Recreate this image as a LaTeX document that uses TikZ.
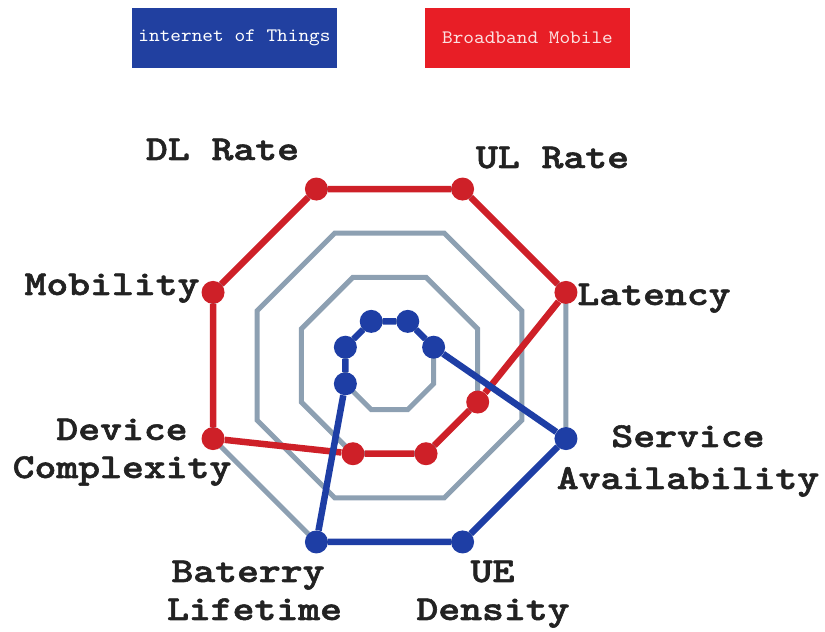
\documentclass[tikz,border=0pt]{standalone}
\usepackage{graphicx}
\usepackage{fontspec}
\newfontfamily\labfont{lmmonolt10-bold.otf}[FakeBold=1.5]
\newfontfamily\legfont{lmmono10-regular.otf}
\usetikzlibrary{calc,backgrounds}
\definecolor{ringgray}{RGB}{141,160,178}
\definecolor{redln}{RGB}{206,32,40}
\definecolor{blueln}{RGB}{30,62,165}
\definecolor{legblue}{RGB}{33,64,160}
\definecolor{legred}{RGB}{232,30,38}
\definecolor{labgray}{RGB}{34,34,34}
\newcommand\wideTxt[1]{\scalebox{1.19}[1]{#1}}
\newcommand\wideLeg[1]{\scalebox{1.07}[1]{#1}}
\begin{document}
\begin{tikzpicture}[x=1pt,y=1pt,
  ring/.style={draw=ringgray,line width=5pt,line join=miter},
  rline/.style={draw=redln,line width=6.5pt,line join=round},
  bline/.style={draw=blueln,line width=6.5pt,line join=round},
  rdot/.style={circle,fill=redln,minimum size=23pt,inner sep=0pt},
  bdot/.style={circle,fill=blueln,minimum size=23pt,inner sep=0pt},
  legend/.style={minimum width=205pt,minimum height=60pt,inner sep=0pt,font=\legfont\fontsize{19}{22}\selectfont},
  lab/.style={anchor=base,inner sep=0pt,text=labgray,font=\labfont\fontsize{35}{40}\selectfont}]
\useasboundingbox (0,0) rectangle (825,632);
\coordinate (C) at (389.5,266.5);

% legend
\node[legend,fill=legblue,text=white] (legIoT) at (234.5,594) {\wideLeg{internet of Things}};
\node[legend,fill=legred,text={rgb,255:red,252;green,225;blue,225}] (legBB) at (527.5,594) {\wideLeg{Broadband Mobile}};

% red dots (Broadband Mobile)
\node[rdot] (rDL)  at ($(C)+(112.5:191)$) {};
\node[rdot] (rUL)  at ($(C)+(67.5:191)$) {};
\node[rdot] (rLat) at ($(C)+(22.5:191)$) {};
\node[rdot] (rSer) at ($(C)+(-22.5:95.5)$) {};
\node[rdot] (rUE)  at ($(C)+(-67.5:95.5)$) {};
\node[rdot] (rBat) at ($(C)+(-112.5:95.5)$) {};
\node[rdot] (rDev) at ($(C)+(-157.5:191)$) {};
\node[rdot] (rMob) at ($(C)+(157.5:191)$) {};

% blue dots (Internet of Things)
\node[bdot] (bDL)  at ($(C)+(112.5:47.75)$) {};
\node[bdot] (bUL)  at ($(C)+(67.5:47.75)$) {};
\node[bdot] (bLat) at ($(C)+(22.5:47.75)$) {};
\node[bdot] (bSer) at ($(C)+(-22.5:191)$) {};
\node[bdot] (bUE)  at ($(C)+(-67.5:191)$) {};
\node[bdot] (bBat) at ($(C)+(-112.5:191)$) {};
\node[bdot] (bDev) at ($(C)+(-157.5:47.75)$) {};
\node[bdot] (bMob) at ($(C)+(157.5:47.75)$) {};

\begin{scope}[on background layer]
  \foreach \r in {47.75,95.5,143.25,191} {
    \draw[ring] ($(C)+(112.5:\r)$)
      \foreach \a in {67.5,22.5,-22.5,-67.5,-112.5,-157.5,157.5} { -- ($(C)+(\a:\r)$) } -- cycle;
  }
  \draw[rline] (rDL) -- (rUL) -- (rLat) -- (rSer) -- (rUE) -- (rBat) -- (rDev) -- (rMob) -- (rDL);
  \draw[bline] (bDL) -- (bUL) -- (bLat) -- (bSer) -- (bUE) -- (bBat) -- (bDev) -- (bMob) -- (bDL);
\end{scope}

% axis labels
\node[lab] (tDL)   at (222.5,472) {\wideTxt{DL Rate}};
\node[lab] (tUL)   at (552.5,464) {\wideTxt{UL Rate}};
\node[lab] (tMob)  at (112,337) {\wideTxt{Mobility}};
\node[lab] (tLat)  at (654,327) {\wideTxt{Latency}};
\node[lab] (tDev1) at (122,192) {\wideTxt{Device}};
\node[lab] (tDev2) at (122,154) {\wideTxt{Complexity}};
\node[lab] (tSer1) at (688,185) {\wideTxt{Service}};
\node[lab] (tSer2) at (688,143) {\wideTxt{Availability}};
\node[lab] (tBat1) at (248,50) {\wideTxt{Baterry}};
\node[lab] (tBat2) at (254.5,12) {\wideTxt{Lifetime}};
\node[lab] (tUE1)  at (492.5,50) {\wideTxt{UE}};
\node[lab] (tUE2)  at (493,12) {\wideTxt{Density}};
\end{tikzpicture}
\end{document}
